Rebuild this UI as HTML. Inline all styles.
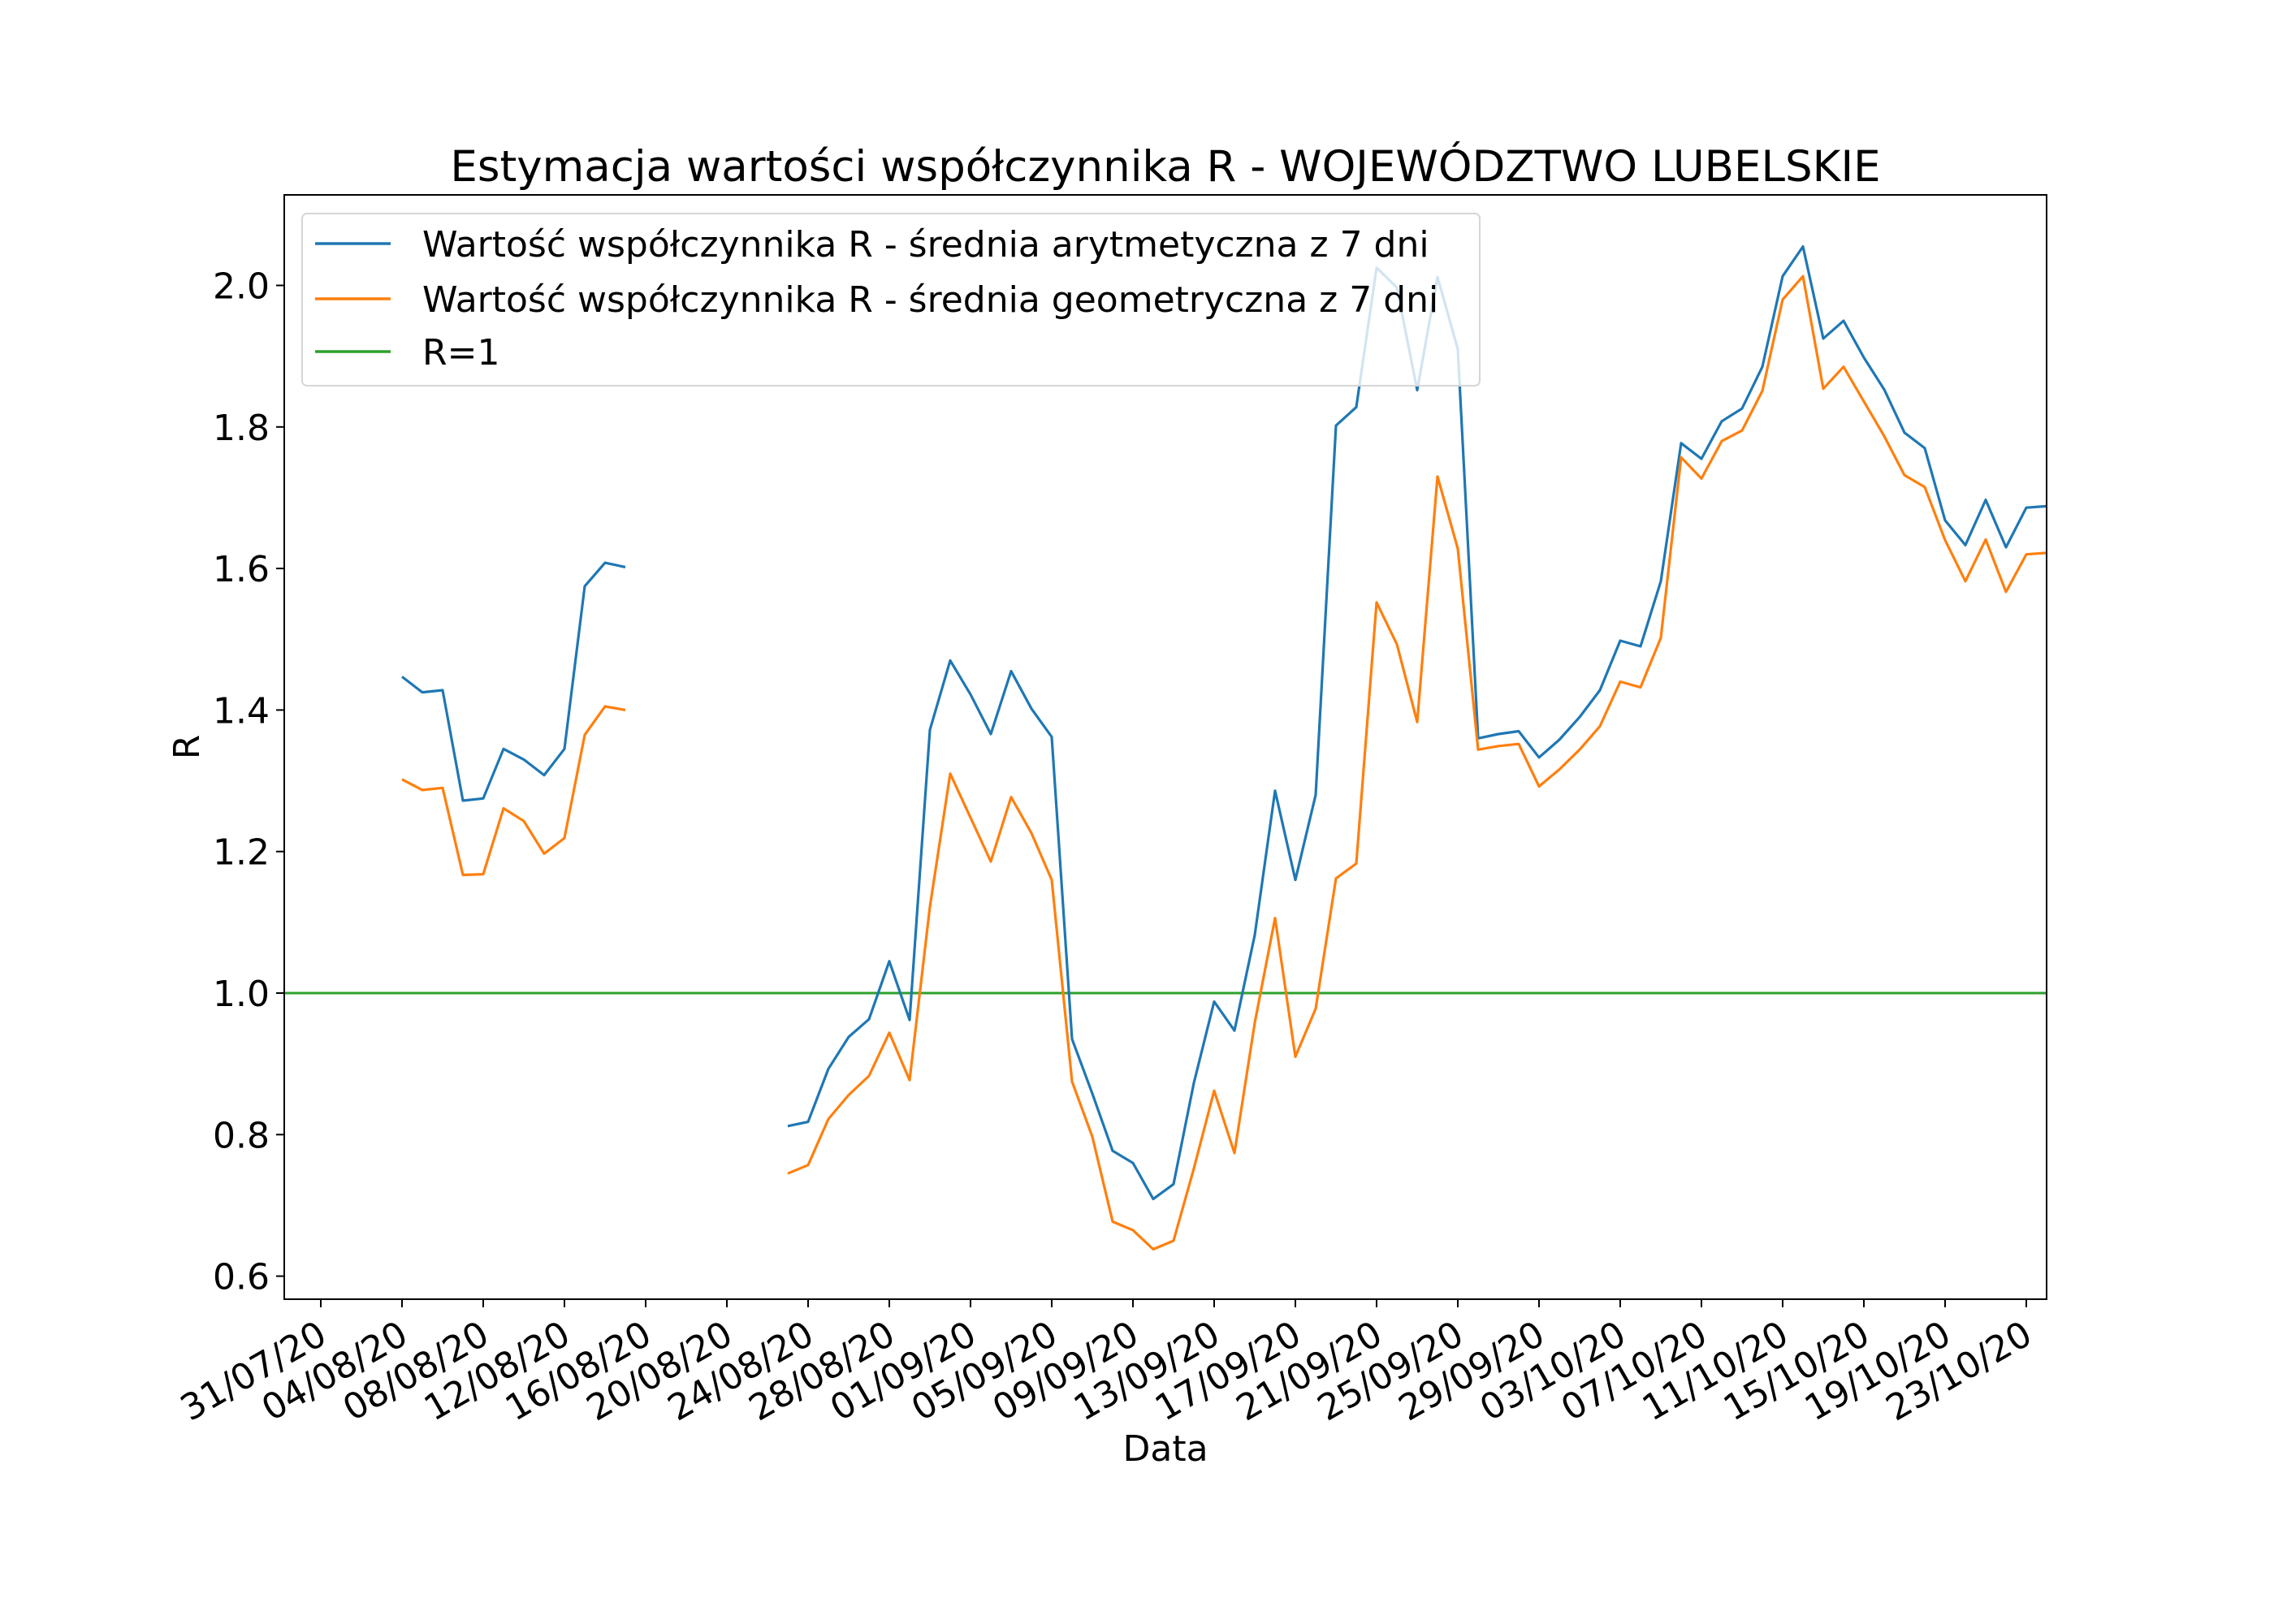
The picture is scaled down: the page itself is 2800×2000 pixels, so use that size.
<!DOCTYPE html>
<html><head><meta charset="utf-8">
<style>
html,body{margin:0;padding:0;background:#fff;}
svg{display:block;font-family:"DejaVu Sans","Liberation Sans",sans-serif;}
</style></head>
<body>
<svg id="chart" width="2800" height="2000" viewBox="0 0 2800 2000" xmlns="http://www.w3.org/2000/svg">
<rect width="2800" height="2000" fill="#fff"/>
<text x="1435" y="223" font-size="53" text-anchor="middle">Estymacja wartości współczynnika R - WOJEWÓDZTWO LUBELSKIE</text>
<g id="plot"></g>
<g id="xticks"></g>
<g id="yticks"></g>
<text x="1435" y="1799" font-size="44" text-anchor="middle">Data</text>
<text x="0" y="0" font-size="44" text-anchor="middle" transform="translate(245,920) rotate(-90)">R</text>
<rect x="350" y="240" width="2170" height="1360" fill="none" stroke="#000" stroke-width="2"/>
<g>
<rect x="372" y="263" width="1450" height="212" rx="6" fill="#fff" fill-opacity="0.8" stroke="#d6d6d6" stroke-width="2"/>
<line x1="388" y1="300" x2="481" y2="300" stroke="#1f77b4" stroke-width="3.5"/>
<text x="520" y="316" font-size="44">Wartość współczynnika R - średnia arytmetyczna z 7 dni</text>
<line x1="388" y1="368" x2="481" y2="368" stroke="#ff7f0e" stroke-width="3.5"/>
<text x="520" y="384" font-size="44">Wartość współczynnika R - średnia geometryczna z 7 dni</text>
<line x1="388" y1="433" x2="481" y2="433" stroke="#2ca02c" stroke-width="3.5"/>
<text x="520" y="449" font-size="44">R=1</text>
</g>
</svg>
<script>
// Day offsets relative to 31/07/20; segment 1 starts 04/08 (day 4), segment 2 starts 23/08 (day 23)
const seg1Start = 4;
const seg2Start = 23;
const arith1 = [1.447,1.425,1.428,1.272,1.275,1.345,1.330,1.308,1.345,1.575,1.608,1.602];
const geom1 = [1.302,1.287,1.290,1.167,1.168,1.261,1.243,1.197,1.219,1.365,1.405,1.400];
const arith2 = [0.812,0.818,0.893,0.938,0.963,1.045,0.962,1.372,1.470,1.422,
1.366,1.455,1.402,1.362,0.935,0.858,0.777,0.760,0.709,0.730,
0.873,0.988,0.947,1.082,1.286,1.160,1.280,1.802,1.828,2.025,
1.997,1.852,2.012,1.910,1.360,1.366,1.370,1.333,1.358,1.390,
1.428,1.498,1.490,1.582,1.777,1.755,1.808,1.826,1.885,2.013,
2.055,1.925,1.950,1.898,1.853,1.792,1.770,1.668,1.633,1.697,
1.630,1.686,1.688];
const geom2 = [0.745,0.757,0.822,0.856,0.883,0.944,0.877,1.122,1.310,1.248,
1.186,1.277,1.226,1.160,0.875,0.797,0.677,0.665,0.638,0.650,
0.752,0.862,0.774,0.958,1.106,0.910,0.978,1.162,1.183,1.552,
1.493,1.383,1.730,1.628,1.344,1.349,1.352,1.292,1.316,1.344,
1.377,1.440,1.432,1.502,1.757,1.727,1.780,1.795,1.851,1.980,
2.013,1.854,1.885,1.836,1.787,1.732,1.715,1.640,1.582,1.641,
1.567,1.620,1.622];
const refValue = 1.0;
const xTickLabels = ["31/07/20","04/08/20","08/08/20","12/08/20","16/08/20","20/08/20","24/08/20","28/08/20","01/09/20","05/09/20","09/09/20","13/09/20","17/09/20","21/09/20","25/09/20","29/09/20","03/10/20","07/10/20","11/10/20","15/10/20","19/10/20","23/10/20"];
const yTicks = [0.6,0.8,1.0,1.2,1.4,1.6,1.8,2.0];

const NS = "http://www.w3.org/2000/svg";
const X0 = 350, X1 = 2520, Y0 = 240, Y1 = 1600;
function xs(day){ return 395 + day*25; }
function ys(v){ return 1223 - (v-1.0)*871.5; }

const plot = document.getElementById('plot');
function mk(tag, attrs, parent){
  const e = document.createElementNS(NS, tag);
  for (const k in attrs) e.setAttribute(k, attrs[k]);
  parent.appendChild(e); return e;
}
const ref = mk('line',{x1:X0,x2:X1,y1:ys(refValue),y2:ys(refValue),stroke:'#2ca02c','stroke-width':3},plot);



function series(vals, start, color, name){
  const pts = vals.map((v,i)=>xs(start+i).toFixed(1)+','+ys(v).toFixed(1)).join(' ');
  const p = mk('polyline',{points:pts,fill:'none',stroke:color,'stroke-width':3.2,'stroke-linejoin':'round'},plot);
  
  
}
series(arith1, seg1Start, '#1f77b4', 'arithmetic-mean-line-segment-1');
series(arith2, seg2Start, '#1f77b4', 'arithmetic-mean-line-segment-2');
series(geom1, seg1Start, '#ff7f0e', 'geometric-mean-line-segment-1');
series(geom2, seg2Start, '#ff7f0e', 'geometric-mean-line-segment-2');

const xg = document.getElementById('xticks');
xTickLabels.forEach((lab,i)=>{
  const x = xs(i*4);
  const t = mk('line',{x1:x,x2:x,y1:Y1,y2:Y1+10,stroke:'#000','stroke-width':2},xg);
  
  
  const tx = mk('text',{x:0,y:0,'font-size':44,'text-anchor':'end',transform:`translate(${x+10},${Y1+52}) rotate(-30)`},xg);
  tx.textContent = lab;
  
  
});
const yg = document.getElementById('yticks');
yTicks.forEach(v=>{
  const y = ys(v);
  const t = mk('line',{x1:X0-10,x2:X0,y1:y,y2:y,stroke:'#000','stroke-width':2},yg);
  
  
  const tx = mk('text',{x:X0-18,y:y+16,'font-size':44,'text-anchor':'end'},yg);
  tx.textContent = v.toFixed(1);
  
  
});
</script>
</body></html>
